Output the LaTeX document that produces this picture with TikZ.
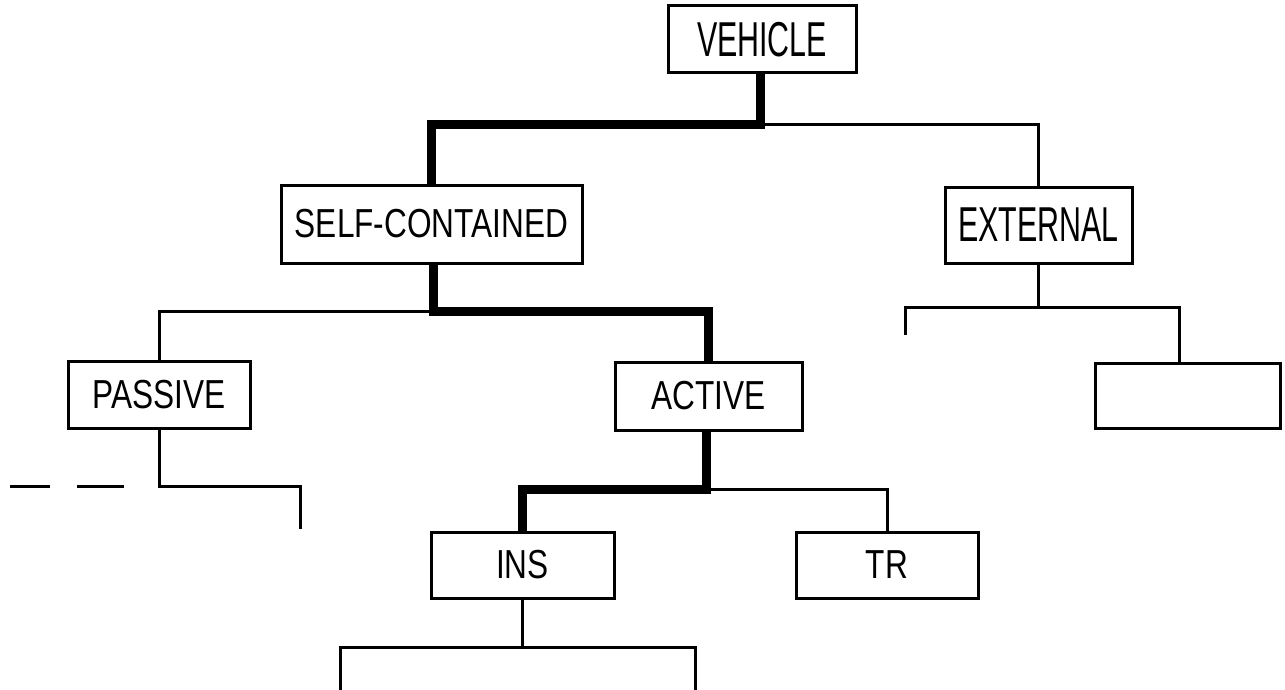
\documentclass[tikz,border=0pt]{standalone}
\usepackage{fontspec}
\newfontfamily\lblfont{Liberation Sans}[FakeStretch=0.78]
\newfontfamily\lblfontc{Liberation Sans}[FakeStretch=0.62]
\begin{document}
\begin{tikzpicture}[x=1pt,y=-1pt,
  box/.style={draw, line width=3pt, inner sep=0pt, anchor=center,
              font=\lblfont\fontsize{40.5}{44}\selectfont},
  bigbox/.style={box, font=\lblfontc\fontsize{49}{52}\selectfont},
  thin/.style={line width=3pt},
  thick/.style={line width=9pt},
]
\useasboundingbox (0,0) rectangle (1285,690);

% boxes
\node[bigbox, minimum width=188pt, minimum height=67pt] (veh) at (762,39.5) {VEHICLE};
\node[box, minimum width=301pt, minimum height=78pt] (sc) at (431.5,224) {SELF-CONTAINED};
\node[bigbox, minimum width=187pt, minimum height=76pt] (ext) at (1038.5,225) {EXTERNAL};
\node[box, minimum width=182pt, minimum height=67pt] (pas) at (159,394.5) {PASSIVE};
\node[box, minimum width=187pt, minimum height=68pt] (act) at (708.5,396) {ACTIVE};
\node[box, minimum width=185pt, minimum height=65pt] (emp) at (1187.5,395.5) {};
\node[box, minimum width=183pt, minimum height=66pt] (ins) at (522.5,565) {INS};
\node[box, minimum width=182pt, minimum height=66pt] (tr) at (887,565) {TR};

% junction and free-end points
\coordinate (j1) at (760,125);
\coordinate (j2) at (433,311);
\coordinate (j3) at (1039,307);
\coordinate (extl) at (905,335);
\coordinate (extr) at (1179,307);
\coordinate (j4) at (157,486);
\coordinate (pasr) at (300,529);
\coordinate (j5) at (706,489);
\coordinate (j6) at (522,647);
\coordinate (insl) at (340,690);
\coordinate (insr) at (695,690);
\coordinate (d1a) at (10,486);
\coordinate (d1b) at (50,486);
\coordinate (d2a) at (77,486);
\coordinate (d2b) at (124,486);

% level 1
\draw[thick] (j1 |- veh.south) -- (j1) -| (sc.north);
\draw[thin] (j1) -| (ext.north);

% level 2, self-contained branch
\draw[thick] (j2 |- sc.south) -- (j2) -| (act.north);
\draw[thin] (j2) -| (pas.north);

% level 2, external branch
\draw[thin] (ext.south) -- (ext.south |- j3);
\draw[thin] (extl) |- (extr) -- (extr |- emp.north);

% passive branch
\draw[thin] (pas.south) |- (pasr |- j4) -- (pasr);
\draw[thin] (d1a) -- (d1b);
\draw[thin] (d2a) -- (d2b);

% active branch
\draw[thick] (j5 |- act.south) -- (j5) -| (ins.north);
\draw[thin] (j5) -| (tr.north);

% INS branch
\draw[thin] (ins.south) -- (ins.south |- j6);
\draw[thin] (insl) |- (j6) -| (insr);
\end{tikzpicture}
\end{document}
